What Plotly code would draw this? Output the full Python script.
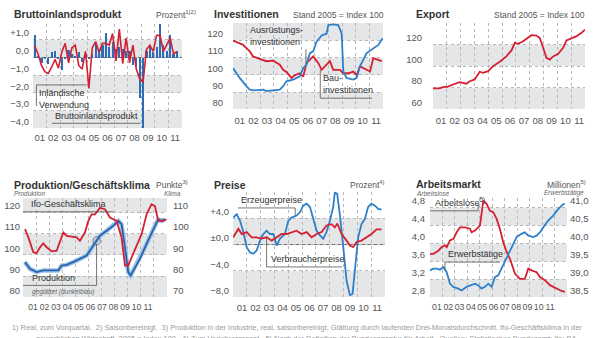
import plotly.graph_objects as go

W, H = 600, 338
FONT = "Liberation Sans, Arial, Helvetica, sans-serif"
RED = "#d42030"
BLUE = "#2f80cc"
DBLUE = "#2a62ad"
LBLUE = "#9cc4ea"
BARBLUE = "#2d6cb8"
BAND = "#e4e6e8"
GRID = "#b8b8b8"
TICK = "#555555"
TXT = "#333333"

# ---------------- data ----------------
year_labels = ["01", "02", "03", "04", "05", "06", "07", "08", "09", "10", "11"]

# Panel 1: quarterly, 2001 Q1 - 2011 Q3 (percent vs. previous quarter)
bip_values = [1.3, 0.1, -0.3, -0.1,
              -0.35, 0.3, 0.35, -0.05,
              -0.7, -0.1, 0.45, 0.2,
              0.1, 0.3, -0.25, 0.2,
              -0.1, 0.2, 0.8, 0.5,
              0.7, 1.4, 0.6, 0.9,
              0.5, 0.6, 0.5, 0.4,
              0.4, -0.4, -0.45, -2.3,
              -4.0, 0.4, 0.7, 0.3,
              0.6, 1.9, 0.7, 0.4,
              1.3, 0.2, 0.4]
inland_values = [0.65, 0.2, -0.45, -0.8,
                 -0.9, -0.55, -0.1, -0.6,
                 0.3, 0.8, -0.3, 0.55,
                 0.7, -0.45, -0.65, 0.35,
                 -1.75, 0.55, 0.9, 0.3,
                 0.8, 0.8, 0.7, 1.35,
                 -0.2, 1.6, -0.35, 1.1,
                 -0.3, 0.7, -0.65, -1.2,
                 -1.4, 0.45, 0.7, 0.35,
                 1.25, 1.25, 0.35, 0.7,
                 1.1, 0.2, 0.35]
quarter_x = [2001 + (i + 0.5) / 4 for i in range(len(bip_values))]

# Panel 2: Investitionen (2005 = 100)
bau_t = [2001.0, 2001.74, 2002.23, 2002.47, 2002.96, 2003.45, 2003.94, 2004.43, 2004.68, 2004.92,
         2005.29, 2005.53, 2005.9, 2006.15, 2006.39, 2006.88, 2007.25, 2007.5, 2007.86, 2008.11,
         2008.35, 2008.84, 2009.09, 2009.46, 2009.82, 2010.07, 2010.31, 2010.8, 2011.05, 2011.29,
         2011.66, 2011.9]
bau_v = [120, 117.5, 113.7, 110.8, 109.4, 108, 108.3, 106, 103, 101.7,
         98.3, 99.8, 101, 99, 106.9, 110.8, 107, 103, 106, 108,
         103, 103, 101, 101, 102, 99.8, 105, 103, 102, 109.8,
         108.8, 108]
ausr_t = [2001.0, 2001.49, 2001.98, 2002.23, 2002.59, 2003.2, 2003.45, 2003.94, 2004.43, 2004.68,
          2004.92, 2005.41, 2005.9, 2006.15, 2006.39, 2006.64, 2006.88, 2007.13, 2007.5, 2007.86,
          2007.99, 2008.35, 2008.72, 2008.97, 2009.09, 2009.33, 2009.82, 2010.07, 2010.31, 2010.8,
          2011.29, 2011.66, 2011.98]
ausr_v = [104, 98.3, 93.5, 91.5, 91, 91.5, 90.6, 91, 91.5, 93.5,
          96.3, 97.3, 99.2, 104, 106, 112.7, 113.7, 119.4, 123, 124,
          129, 129.4, 129, 124.2, 102, 98.3, 97.3, 98.3, 105, 112.7,
          115.6, 117.5, 121.3]

# Panel 3: Export (2005 = 100)
exp_t = [2001.0, 2001.48, 2001.72, 2002.09, 2002.45, 2002.93, 2003.42, 2003.66, 2004.02, 2004.38,
         2004.62, 2004.99, 2005.35, 2005.83, 2006.31, 2006.68, 2006.92, 2007.16, 2007.52, 2007.88,
         2008.13, 2008.49, 2008.73, 2008.97, 2009.21, 2009.45, 2009.7, 2010.06, 2010.42, 2010.66,
         2011.02, 2011.39, 2011.75, 2011.99]
exp_v = [79.4, 79.4, 80.6, 81, 83, 85.2, 83.7, 86, 87.7, 94.8,
         93.8, 95.4, 100, 104, 109, 114.5, 121.5, 120.6, 123, 126,
         128.6, 128.3, 126, 117, 107.7, 106, 109, 111.4, 117, 123.7,
         126, 127.7, 130.8, 133.8]

# Panel 4: Produktion (left axis) / Ifo-Geschaeftsklima (right axis)
ifo_t = [2001.15, 2001.41, 2001.79, 2002.04, 2002.3, 2002.55, 2002.81, 2003.19, 2003.57, 2003.82,
         2004.08, 2004.33, 2004.72, 2005.1, 2005.35, 2005.73, 2005.99, 2006.24, 2006.5, 2006.88,
         2007.26, 2007.64, 2008.15, 2008.53, 2008.79, 2009.04, 2009.3, 2009.68, 2010.06, 2010.44,
         2010.82, 2011.08, 2011.33, 2011.71, 2011.97]
ifo_v = [102.2, 98.3, 91.3, 90.8, 93.6, 95.5, 93.6, 91.7, 92, 96,
         100.6, 99, 98.6, 98.3, 96.7, 100.6, 106.1, 109.2, 109.2, 112.3,
         111.6, 107.7, 106.1, 98.3, 85, 85, 88.9, 94.4, 99.8, 109.2,
         114, 113.1, 106.1, 106.1, 106.9]
prod_t = [2001.15, 2001.53, 2002.04, 2002.55, 2003.06, 2003.7, 2003.95, 2004.33, 2004.84, 2005.35,
          2005.86, 2006.37, 2006.62, 2006.88, 2007.39, 2007.9, 2008.28, 2008.53, 2008.79, 2009.04,
          2009.22, 2009.55, 2009.93, 2010.44, 2010.95, 2011.33, 2011.59, 2011.84]
prod_v = [96.6, 93.4, 91.9, 92.7, 92.7, 92.7, 95, 95.3, 96.6, 98.1,
          99.7, 104.5, 106.7, 109.1, 111.4, 113.8, 116.1, 114.5, 103.6, 91.9,
          90.3, 94.2, 98.1, 105.2, 112.2, 116.9, 116.1, 116.9]

# Panel 5: Preise (percent vs. previous year)
ppi_t = [2001.02, 2001.27, 2001.51, 2001.75, 2001.99, 2002.23, 2002.47, 2002.71, 2002.95, 2003.19,
         2003.43, 2003.67, 2003.92, 2004.16, 2004.4, 2004.76, 2005.0, 2005.24, 2005.6, 2005.84,
         2006.08, 2006.33, 2006.57, 2006.81, 2007.05, 2007.29, 2007.53, 2007.77, 2008.01, 2008.25,
         2008.37, 2008.54, 2008.73, 2008.98, 2009.22, 2009.46, 2009.65, 2009.82, 2010.06, 2010.3,
         2010.54, 2010.78, 2011.02, 2011.27, 2011.51, 2011.75]
ppi_v = [4.1, 4.6, 3.6, 1.9, -0.4, -1.2, -1.4, -0.9, 0.6, 1.6,
         2.1, 1.6, 1.6, -0.15, 0.9, 1.6, 3.6, 4.1, 4.4, 4.9,
         5.9, 6.2, 5.7, 3.9, 2.1, 1.4, 0.9, 1.9, 3.6, 5.7,
         7.9, 7.7, 4.6, -0.4, -5.5, -7.7, -7.5, -3.9, 1.1, 3.1,
         3.9, 5.7, 6.2, 5.9, 5.4, 5.3]
cpi_t = [2001.02, 2001.39, 2001.63, 2001.99, 2002.35, 2002.71, 2003.07, 2003.43, 2003.8, 2004.16,
         2004.52, 2004.88, 2005.24, 2005.6, 2005.96, 2006.33, 2006.69, 2007.05, 2007.41, 2007.77,
         2008.13, 2008.37, 2008.55, 2008.86, 2009.22, 2009.46, 2009.7, 2009.94, 2010.3, 2010.66,
         2011.02, 2011.39, 2011.75]
cpi_v = [1.1, 2.4, 1.6, 1.9, 1.1, 1.1, 0.9, 1.1, 0.6, 1.1,
         1.6, 1.6, 1.9, 2.1, 1.6, 1.9, 1.1, 1.6, 1.9, 2.9,
         3.1, 2.6, 3.2, 1.6, 0.6, -0.15, -0.4, 0.4, 0.6, 1.1,
         1.6, 2.3, 2.3]

# Panel 6: Arbeitsmarkt (millions)
alo_t = [2001.0, 2001.27, 2001.67, 2001.94, 2002.2, 2002.34, 2002.6, 2002.87, 2003.14, 2003.41,
         2003.81, 2004.21, 2004.34, 2004.61, 2005.01, 2005.14, 2005.28, 2005.55, 2005.81, 2006.08,
         2006.35, 2006.61, 2006.88, 2007.15, 2007.42, 2007.82, 2008.22, 2008.62, 2008.89, 2009.16,
         2009.56, 2009.82, 2010.22, 2010.63, 2011.16, 2011.56, 2011.83]
alo_v = [3.77, 3.77, 3.84, 3.92, 3.96, 3.92, 4.07, 4.1, 4.25, 4.36,
         4.36, 4.33, 4.25, 4.29, 4.4, 4.62, 4.96, 4.88, 4.73, 4.7,
         4.55, 4.33, 4.03, 3.81, 3.66, 3.33, 3.21, 3.21, 3.44, 3.4,
         3.36, 3.25, 3.18, 3.07, 2.99, 2.94, 2.92]
erw_t = [2001.0, 2001.27, 2001.53, 2001.8, 2002.07, 2002.34, 2002.6, 2002.87, 2003.27, 2003.54,
         2003.94, 2004.21, 2004.61, 2004.88, 2005.14, 2005.41, 2005.68, 2005.95, 2006.21, 2006.48,
         2006.75, 2007.02, 2007.28, 2007.55, 2007.95, 2008.35, 2008.62, 2008.89, 2009.29, 2009.56,
         2009.82, 2010.09, 2010.49, 2010.89, 2011.29, 2011.7, 2011.83]
erw_v = [39.25, 39.3, 39.3, 39.27, 39.34, 39.2, 38.88, 38.79, 38.74, 38.69,
         38.79, 38.83, 38.88, 38.83, 38.74, 38.79, 38.88, 38.79, 39.06, 39.11,
         39.3, 39.48, 39.71, 39.9, 40.18, 40.27, 40.31, 40.22, 40.18, 40.22,
         40.31, 40.45, 40.64, 40.78, 40.96, 41.1, 41.1]

# ---------------- helpers ----------------
def px(x):
    return x / W


def py(y):
    return 1 - y / H


tickfont = dict(family=FONT, size=9.5, color=TICK)


def xax(x0, x1, anchor, tick0, tickstep, standoff, size=9.5):
    return dict(domain=[px(x0), px(x1)], anchor=anchor, range=[2001, 2012],
                tickvals=[tick0 + i * tickstep for i in range(11)], ticktext=year_labels,
                showgrid=False, zeroline=False, ticks="", ticklen=0,
                tickfont=dict(family=FONT, size=size, color=TICK), tickangle=0,
                ticklabelstandoff=standoff, showline=False, fixedrange=True,
                minor=dict(tickvals=list(range(2001, 2013)), showgrid=True, gridcolor=GRID,
                           griddash="dot", gridwidth=1, ticks=""))


def yax(y0, y1, anchor, rng, tickvals, ticktext, side="left", overlaying=None, grid=True, standoff=3):
    d = dict(domain=[py(y1), py(y0)], anchor=anchor, range=rng, tickvals=tickvals, ticktext=ticktext,
             side=side, showgrid=grid, gridcolor=GRID, griddash="dot", gridwidth=1, zeroline=False,
             ticks="", ticklen=0, ticklabelposition="outside top", ticklabelstandoff=standoff,
             tickfont=tickfont, fixedrange=True, showline=False)
    if overlaying:
        d["overlaying"] = overlaying
    return d


fig = go.Figure()


def line(x, y, color, xa, ya, width=1.8):
    fig.add_trace(go.Scatter(x=x, y=y, mode="lines", line=dict(color=color, width=width),
                             xaxis=xa, yaxis=ya, showlegend=False, hoverinfo="skip"))


# Panel 1
fig.add_trace(go.Bar(x=quarter_x, y=bip_values, width=0.16, marker=dict(color=BARBLUE, line=dict(width=0)),
                     xaxis="x", yaxis="y", showlegend=False, hoverinfo="skip"))
line(quarter_x, inland_values, RED, "x", "y", width=1.6)
# Panel 2
line(bau_t, bau_v, RED, "x2", "y2")
line(ausr_t, ausr_v, BLUE, "x2", "y2")
# Panel 3
line(exp_t, exp_v, RED, "x3", "y3")
# Panel 4
line(prod_t, prod_v, LBLUE, "x4", "y4", width=4.5)
line(prod_t, prod_v, DBLUE, "x4", "y4", width=1.8)
line(ifo_t, ifo_v, RED, "x4", "y7")
# Panel 5
line(ppi_t, ppi_v, BLUE, "x5", "y5")
line(cpi_t, cpi_v, RED, "x5", "y5")
# Panel 6
line(alo_t, alo_v, RED, "x6", "y6")
line(erw_t, erw_v, BLUE, "x6", "y8")

layout = dict(
    xaxis=xax(33, 182, "y", 2001.5, 1.0, 2),
    yaxis=yax(22, 127, "x", [-4.0, 1.9], [1, 0, -1, -2, -3, -4],
              ["+1,0", "0,0", "\u22121,0", "\u22122,0", "\u22123,0", "\u22124,0"]),
    xaxis2=xax(233, 383, "y2", 2001.5, 1.0, 4),
    yaxis2=yax(21, 108, "x2", [80, 130.3], [80, 90, 100, 110, 120], ["80", "90", "100", "110", "120"], standoff=9),
    xaxis3=xax(433, 585, "y3", 2001.58, 1.0, 4),
    yaxis3=yax(21, 108, "x3", [60, 140], [60, 80, 100, 120], ["60", "80", "100", "120"], standoff=10),
    xaxis4=xax(23, 167, "y4", 2001.76, 0.879, 3, size=8.6),
    yaxis4=yax(197, 297, "x4", [80, 127], [80, 90, 100, 110, 120], ["80", "90", "100", "110", "120"], standoff=2),
    yaxis7=yax(197, 297, "x4", [70, 117], [70, 80, 90, 100, 110], ["70", "80", "90", "100", "110"],
               side="right", overlaying="y4", grid=False, standoff=5),
    xaxis5=xax(233, 385, "y5", 2001.65, 0.978, 3),
    yaxis5=yax(191, 297, "x5", [-8, 8], [-8, -4, 0, 4], ["\u22128,0", "\u22124,0", "\u00b10,0", "+4,0"], standoff=3),
    xaxis6=xax(430, 567, "y6", 2001.56, 0.908, 3, size=8.8),
    yaxis6=yax(197, 297, "x6", [2.8, 5.02], [2.8, 3.2, 3.6, 4.0, 4.4, 4.8],
               ["2,8", "3,2", "3,6", "4,0", "4,4", "4,8"], standoff=4),
    yaxis8=yax(197, 297, "x6", [38.5, 41.275], [38.5, 39.0, 39.5, 40.0, 40.5, 41.0],
               ["38,5", "39,0", "39,5", "40,0", "40,5", "41,0"], side="right", overlaying="y6",
               grid=False, standoff=2),
)

shapes = []


def band(xref, yref, lo, hi):
    shapes.append(dict(type="rect", xref=xref + " domain", yref=yref, x0=0, x1=1, y0=lo, y1=hi,
                       fillcolor=BAND, line=dict(width=0), layer="below"))


for lo, hi in [(0, 1), (-2, -1), (-4, -3)]:
    band("x", "y", lo, hi)
for lo, hi in [(80, 90), (100, 110), (120, 130.3)]:
    band("x2", "y2", lo, hi)
for lo, hi in [(60, 80), (100, 120)]:
    band("x3", "y3", lo, hi)
for lo, hi in [(80, 90), (100, 110), (120, 127)]:
    band("x4", "y4", lo, hi)
for lo, hi in [(-8, -4), (0, 4)]:
    band("x5", "y5", lo, hi)
for lo, hi in [(2.8, 3.2), (3.6, 4.0), (4.4, 4.8)]:
    band("x6", "y6", lo, hi)

for xr, yr in [("x", "y"), ("x5", "y5")]:
    shapes.append(dict(type="line", xref=xr + " domain", yref=yr, x0=0, x1=1, y0=0, y1=0,
                       line=dict(color="#707070", width=1), layer="below"))

LEAD = dict(color="#555555", width=0.8)


def seg(xr, yr, x0, y0, x1, y1):
    shapes.append(dict(type="line", xref=xr, yref=yr, x0=x0, y0=y0, x1=x1, y1=y1, line=LEAD))


# leader lines
seg("x", "y", 2001.25, -1.55, 2004.95, -1.55)
seg("x", "y", 2001.25, -1.55, 2001.25, -2.75)
seg("x", "y", 2002.4, -3.72, 2008.95, -3.72)
seg("x2", "y2", 2006.35, 115.0, 2006.35, 106.5)
seg("x2", "y2", 2007.4, 103, 2007.4, 86.5)
seg("x2", "y2", 2007.4, 86.5, 2011.2, 86.5)
seg("x4", "y4", 2001.0, 120.4, 2007.9, 120.4)
seg("x4", "y4", 2006.62, 105.2, 2006.62, 85.6)
seg("x4", "y4", 2001.0, 85.6, 2006.62, 85.6)
shapes.append(dict(type="circle", xref="x4", yref="y4", x0=2006.35, x1=2006.9, y0=104.8, y1=108.6,
                   line=dict(color="#666666", width=0.8)))
seg("x5", "y5", 2001.36, 5.56, 2005.5, 5.56)
seg("x5", "y5", 2005.5, 5.56, 2005.5, 4.4)
seg("x5", "y5", 2003.43, 1.1, 2003.43, -3.4)
seg("x5", "y5", 2003.43, -3.4, 2008.88, -3.4)
seg("x6", "y6", 2001.0, 4.73, 2004.86, 4.73)
seg("x6", "y6", 2004.86, 4.73, 2004.86, 4.88)
seg("x6", "y6", 2002.2, 3.585, 2006.62, 3.585)
seg("x6", "y6", 2002.2, 3.585, 2002.2, 3.4)

annotations = []


def note(x, y, s, size=9, color=TXT, xanchor="left", yanchor="middle", xref="paper", yref="paper",
         bold=False, italic=False, align="left"):
    if bold:
        s = "<b>" + s + "</b>"
    if italic:
        s = "<i>" + s + "</i>"
    annotations.append(dict(x=x, y=y, xref=xref, yref=yref, text=s, showarrow=False, xanchor=xanchor,
                            yanchor=yanchor, align=align, font=dict(family=FONT, size=size, color=color)))


TS = 10.5
SS = 8.5
# Titles and units
note(px(12), py(12), "Bruttoinlandsprodukt", size=TS, bold=True)
note(px(198), py(13), "Prozent<sup>1)2)</sup>", size=SS, color="#555", xanchor="right")
note(px(212), py(12), "Investitionen", size=TS, bold=True)
note(px(386), py(13), "Stand 2005 = Index 100", size=SS, color="#555", xanchor="right")
note(px(414), py(12), "Export", size=TS, bold=True)
note(px(587), py(13), "Stand 2005 = Index 100", size=SS, color="#555", xanchor="right")
note(px(12), py(184), "Produktion/Geschäftsklima", size=TS, bold=True)
note(px(190), py(184), "Punkte<sup>3)</sup>", size=SS, color="#555", xanchor="right")
note(px(12), py(192.3), "Produktion", size=6.5, color="#666", italic=True)
note(px(183), py(192.3), "Klima", size=6.5, color="#666", italic=True, xanchor="right")
note(px(212), py(184), "Preise", size=TS, bold=True)
note(px(387), py(184), "Prozent<sup>4)</sup>", size=SS, color="#555", xanchor="right")
note(px(414), py(183.5), "Arbeitsmarkt", size=TS, bold=True)
note(px(588), py(183.5), "Millionen<sup>5)</sup>", size=SS, color="#555", xanchor="right")
note(px(414), py(192.3), "Arbeitslose", size=6.5, color="#666", italic=True)
note(px(586), py(192.3), "Erwerbstätige", size=6.5, color="#666", italic=True, xanchor="right")

# In-plot labels
note(2001.3, -1.6, "Inländische<br>Verwendung", xref="x", yref="y", yanchor="top")
note(2002.45, -3.68, "Bruttoinlandsprodukt", xref="x", yref="y", yanchor="bottom")
note(2006.3, 115.3, "Ausrüstungs-<br>investitionen", xref="x2", yref="y2", yanchor="bottom", xanchor="right")
note(2007.45, 87.0, "Bau-<br>investitionen", xref="x2", yref="y2", yanchor="bottom")
note(2001.45, 120.8, "Ifo-Geschäftsklima", xref="x4", yref="y4", yanchor="bottom")
note(2001.5, 86.0, "Produktion", xref="x4", yref="y4", yanchor="bottom")
note(2001.5, 85.2, "geglättet (dunkelblau)", size=6.5, color="#666", italic=True, xref="x4", yref="y4",
     yanchor="top")
note(2001.4, 5.7, "Erzeugerpreise", xref="x5", yref="y5", yanchor="bottom")
note(2003.6, -3.25, "Verbraucherpreise", xref="x5", yref="y5", yanchor="bottom")
note(2001.25, 4.75, "Arbeitslose<sup>5)</sup>", xref="x6", yref="y6", yanchor="bottom")
note(2002.3, 3.6, "Erwerbstätige", xref="x6", yref="y6", yanchor="bottom")

# Footnotes
note(px(10), py(327), "1) Real, zum Vorquartal.  2) Saisonbereinigt.  3) Produktion in der Industrie, real, "
     "saisonbereinigt, Glättung durch laufenden Drei-Monatsdurchschnitt. Ifo-Geschäftsklima in der",
     size=7.4, color="#9a9a9a")
note(px(34), py(338.5), "gewerblichen Wirtschaft, 2005 = Index 100.  4) Zum Vorjahresmonat.  5) Nach der "
     "Definition der Bundesagentur für Arbeit.  Quellen: Statistisches Bundesamt; Ifo; BA",
     size=7.4, color="#9a9a9a")

fig.update_layout(**layout)
fig.update_layout(width=W, height=H, margin=dict(l=0, r=0, t=0, b=0), paper_bgcolor="white",
                  plot_bgcolor="white", showlegend=False, bargap=0, shapes=shapes, annotations=annotations,
                  font=dict(family=FONT, size=9, color=TXT))

fig.write_html("out.html", config={"displayModeBar": False})
